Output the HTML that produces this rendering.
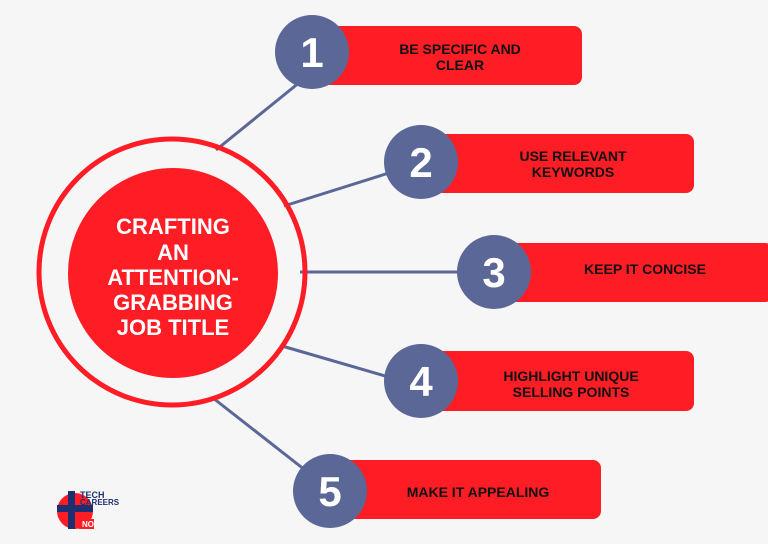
<!DOCTYPE html>
<html><head><style>
body{margin:0;background:#f6f6f6;}
svg text{font-family:"Liberation Sans",sans-serif;font-weight:bold;}
</style></head><body>
<svg width="768" height="539" viewBox="0 0 768 539" xmlns="http://www.w3.org/2000/svg">
<rect width="768" height="539" fill="#f6f6f6"/>
<g stroke="#5b6797" stroke-width="3">
<line x1="216" y1="150" x2="300" y2="82"/>
<line x1="284" y1="206" x2="392" y2="172"/>
<line x1="300" y1="272" x2="470" y2="272"/>
<line x1="282" y1="346" x2="392" y2="378"/>
<line x1="213" y1="398" x2="305" y2="470"/>
</g>
<circle cx="172" cy="272" r="133" fill="none" stroke="#fe1c25" stroke-width="5"/>
<circle cx="173" cy="273" r="105" fill="#fe1c25"/>
<g fill="#fff" font-size="22" text-anchor="middle">
<text x="173" y="234">CRAFTING</text>
<text x="173" y="260">AN</text>
<text x="173" y="285">ATTENTION-</text>
<text x="173" y="310">GRABBING</text>
<text x="173" y="335">JOB TITLE</text>
</g>
<g fill="#fe1c25">
<rect x="318" y="26" width="264" height="59" rx="8"/>
<rect x="428" y="134" width="266" height="59" rx="8"/>
<rect x="503" y="243" width="270" height="59" rx="8"/>
<rect x="428" y="351" width="266" height="60" rx="8"/>
<rect x="338" y="460" width="263" height="59" rx="8"/>
</g>
<g fill="#5b6797">
<circle cx="312" cy="52" r="37"/>
<circle cx="421" cy="162" r="37"/>
<circle cx="494" cy="272" r="37"/>
<circle cx="421" cy="381" r="37"/>
<circle cx="330" cy="491" r="37"/>
</g>
<g fill="#fff" font-size="42" text-anchor="middle">
<text x="312" y="67">1</text>
<text x="421" y="177">2</text>
<text x="494" y="287">3</text>
<text x="421" y="396">4</text>
<text x="330" y="506">5</text>
</g>
<g fill="#111" font-size="14" text-anchor="middle">
<text x="460" y="54">BE SPECIFIC AND</text>
<text x="460" y="70">CLEAR</text>
<text x="573" y="161">USE RELEVANT</text>
<text x="573" y="177">KEYWORDS</text>
<text x="645" y="274">KEEP IT CONCISE</text>
<text x="571" y="381">HIGHLIGHT UNIQUE</text>
<text x="571" y="397">SELLING POINTS</text>
<text x="478" y="497">MAKE IT APPEALING</text>
</g>
<g>
<circle cx="75" cy="511" r="18" fill="#fe1c25"/>
<rect x="57" y="505" width="36" height="7" fill="#1d2f6f"/>
<rect x="68" y="491" width="7" height="38" fill="#1d2f6f"/>
<rect x="79" y="519" width="15" height="10" fill="#fe1c25"/>
<text x="82" y="527" font-size="8" fill="#fff">NO</text>
<text x="80" y="498" font-size="9" fill="#1d2f6f">TECH</text>
<text x="80" y="505" font-size="8" fill="#1d2f6f">CAREERS</text>
</g>
</svg>
</body></html>
